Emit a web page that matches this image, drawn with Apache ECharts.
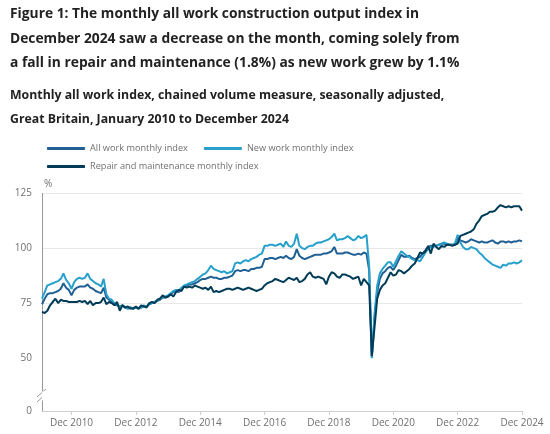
<!DOCTYPE html>
<html>
<head>
<meta charset="utf-8">
<script src="https://cdn.jsdelivr.net/npm/echarts@6.0.0/dist/echarts.min.js"></script>
<style>
  html, body { margin: 0; padding: 0; background: #fff; }
  #chart { width: 550px; height: 434px; }
</style>
</head>
<body>
<div id="chart"></div>
<script>
var years = [2010, 2011, 2012, 2013, 2014, 2015, 2016, 2017, 2018, 2019, 2020, 2021, 2022, 2023, 2024];
var monthNames = ['Jan', 'Feb', 'Mar', 'Apr', 'May', 'Jun', 'Jul', 'Aug', 'Sep', 'Oct', 'Nov', 'Dec'];
var yTicks = [0, 50, 75, 100, 125];

// one row per year, Jan..Dec
var allWork = [
  74.5, 77, 79, 79.5, 79.5, 80, 80.5, 81.5, 84, 82, 81, 78.5,
  81, 82, 82.5, 82.5, 82.5, 83.5, 82, 81.5, 80.5, 80, 79.5, 82,
  77.5, 76.5, 75.5, 74.5, 74, 73.5, 74, 73, 72.5, 73, 72.5, 73,
  72.5, 73, 73.5, 73.5, 74.5, 75, 75.5, 76, 76.5, 77.5, 77.5, 78,
  79, 80, 80.5, 80, 81.5, 82.5, 83, 83.5, 83.5, 84, 84.5, 85.5,
  86, 86, 86.5, 87, 86.5, 86.5, 86, 86, 86.5, 86.5, 87, 87.5,
  89.5, 90, 89.5, 90, 90, 89.5, 90.5, 90.5, 91, 91, 91.5, 95,
  95, 95.5, 95.5, 95, 95.5, 96, 95.5, 96.5, 95.5, 95, 96, 99.5,
  96.5, 95.5, 95, 95.5, 96, 96.5, 97, 97, 97, 97.5, 97.5, 98,
  98.5, 100.5, 97.5, 97.5, 97.5, 98, 98, 97.5, 97, 97, 97.5, 97,
  98, 97.5, 90, 50.5, 68, 80, 86, 88.5, 89.5, 91, 91.5, 90,
  92, 94.5, 97, 96, 96, 96.5, 95.5, 95, 95.5, 96, 97.5, 99,
  100.5, 101, 101, 101, 101.5, 102, 102, 101.5, 101.5, 101.5, 101.5, 104.5,
  103.5, 103, 102.5, 103, 104, 103.5, 103, 102.5, 103, 102.5, 102.5, 103,
  103.5, 102.5, 102, 103, 103, 102.5, 103, 102.5, 103, 103, 103.5, 103
];
var newWork = [
  77, 80, 83, 83.5, 84, 84.5, 85, 86, 88.5, 85.5, 84, 81.5,
  84.5, 86, 86.5, 86, 86.5, 88.5, 86, 85, 84, 83.5, 82.5, 86,
  79, 77, 76.5, 75, 74.5, 73.5, 74, 73, 72.5, 73, 72.5, 73,
  72.5, 73, 74, 73.5, 74.5, 75, 75.5, 76, 77, 77.5, 78, 78.5,
  79.5, 80.5, 81, 80.5, 82, 83, 83.5, 84, 84.5, 85, 86, 87,
  88, 88.5, 90, 92, 90.5, 90, 89.5, 89, 89.5, 88.5, 89, 89.5,
  93, 93.5, 93, 94, 94.5, 94, 95, 95.5, 96, 97, 97.5, 101,
  101, 101.5, 101.5, 101, 101.5, 102, 100.5, 103, 101, 100.5, 102, 106.5,
  101, 100, 99.5, 100.5, 101, 101, 102, 102.5, 102.5, 103, 103.5, 104,
  105, 106.5, 103.5, 104, 104, 104.5, 105.5, 104.5, 103.5, 104, 105.5, 104.5,
  105, 106, 92, 50, 70, 83, 88.5, 90.5, 92, 93.5, 93.5, 91.5,
  94, 96.5, 98.5, 97.5, 96.5, 96, 95, 94.5, 94.5, 94, 96, 98,
  99.5, 100.5, 100.5, 101, 101.5, 102, 102.5, 102, 101.5, 101.5, 102, 106,
  102.5, 100.5, 99.5, 99.5, 100.5, 100, 99.5, 98, 97, 95.5, 94.5, 93.5,
  92.5, 92, 91.5, 91, 92.5, 92, 93, 93, 93.5, 93, 93.5, 94.5
];
var repair = [
  71, 70.5, 71.5, 74, 75.5, 77, 75, 76.5, 76, 76, 75.5, 75.5,
  75.5, 75.5, 76, 75.5, 76, 74.5, 76, 74, 75, 75, 75.5, 77.5,
  74.5, 75.5, 75, 74, 75.5, 71.5, 74, 73, 73.5, 72.5, 72.5, 73.5,
  72.5, 74, 73.5, 73, 75, 75.5, 75, 76.5, 77, 78.5, 77.5, 78,
  79, 78, 80, 81, 80.5, 82.5, 82, 82.5, 82, 83, 82.5, 82,
  81.5, 82, 81, 82.5, 80, 80.5, 80, 80.5, 81, 81.5, 81.5, 81,
  81.5, 82, 81.5, 81, 81.5, 82, 81.5, 81, 80.5, 81, 81.5, 83,
  84, 84.5, 85, 86, 85.5, 85, 84.5, 85.5, 86.5, 86, 85.5, 86.5,
  84.5, 85, 86, 88, 89, 87, 86.5, 87, 86.5, 86, 83.5, 87,
  89, 88.5, 87, 86.5, 88, 88, 87.5, 87, 86, 86.5, 87, 83,
  86, 84.5, 83, 51, 64, 77, 81, 83, 84, 86.5, 89, 87.5,
  88, 90, 89.5, 88.5, 89.5, 90.5, 92, 93, 95.5, 98, 97.5, 98.5,
  101, 97.5, 102, 100.5, 99.5, 101, 100.5, 101.5, 101.5, 101, 101.5, 102,
  105.5, 106, 106.5, 107, 107.5, 108.5, 111, 112.5, 114.5, 115, 115.5, 116.5,
  116.5, 117, 118.5, 119.5, 119, 118.5, 119, 118.5, 119, 119, 119, 117
];

var categories = [];
years.forEach(function (y) {
  monthNames.forEach(function (m) {
    categories.push(m + ' ' + y);
  });
});

// labels every second December
function showDec(index) {
  return (index - 11) % 24 === 0;
}

var font = 'Open Sans';
var legendText = {fontFamily: font, fontSize: 9.2, color: '#707070'};
var chart = echarts.init(document.getElementById('chart'));
chart.setOption({
  animation: false,
  textStyle: {fontFamily: font},
  title: [{
    text: 'Figure 1: The monthly all work construction output index in\nDecember 2024 saw a decrease on the month, coming solely from\na fall in repair and maintenance (1.8%) as new work grew by 1.1%',
    left: 10,
    top: 2,
    padding: 0,
    textStyle: {fontFamily: font, fontSize: 13.8, fontWeight: 'bold', color: '#222', lineHeight: 24.5}
  }, {
    text: 'Monthly all work index, chained volume measure, seasonally adjusted,\nGreat Britain, January 2010 to December 2024',
    left: 10,
    top: 83,
    padding: 0,
    textStyle: {fontFamily: font, fontSize: 12.3, fontWeight: 'bold', color: '#222', lineHeight: 24}
  }],
  legend: [{
    data: ['All work monthly index', 'New work monthly index'],
    left: 47,
    top: 144,
    padding: 0,
    icon: 'roundRect',
    itemWidth: 38,
    itemHeight: 3,
    itemGap: 16,
    textStyle: legendText
  }, {
    data: ['Repair and maintenance monthly index'],
    left: 47,
    top: 162,
    padding: 0,
    icon: 'roundRect',
    itemWidth: 38,
    itemHeight: 3,
    textStyle: legendText
  }],
  grid: {left: 42, right: 28, top: 193, bottom: 23},
  xAxis: {
    type: 'category',
    boundaryGap: false,
    data: categories,
    axisLine: {lineStyle: {color: '#cfcfcf'}},
    axisTick: {interval: showDec, length: 4, lineStyle: {color: '#cfcfcf'}},
    axisLabel: {interval: showDec, fontSize: 10, color: '#707070', margin: 7},
    splitLine: {show: false}
  },
  yAxis: {
    type: 'value',
    min: 0,
    max: 125,
    interval: 25,
    name: '%',
    nameLocation: 'end',
    nameGap: 4,
    nameTextStyle: {align: 'left', fontSize: 10, color: '#707070', padding: [0, 0, 0, 2]},
    breaks: [{start: 5, end: 35, gap: 4}],
    breakArea: {
      show: true,
      expandOnClick: false,
      zigzagAmplitude: 0,
      itemStyle: {color: '#fff', borderColor: 'rgba(0,0,0,0)', borderWidth: 0, opacity: 1}
    },
    axisLine: {show: true, lineStyle: {color: '#9a9a9a'}},
    axisTick: {show: false},
    axisLabel: {customValues: yTicks, fontSize: 10, color: '#707070', margin: 10},
    splitLine: {lineStyle: {color: '#e8e8e8'}}
  },
  series: [{
    name: 'All work monthly index',
    type: 'line',
    data: allWork,
    showSymbol: false,
    color: '#206095',
    lineStyle: {width: 2}
  }, {
    name: 'New work monthly index',
    type: 'line',
    data: newWork,
    showSymbol: false,
    color: '#27a0cc',
    lineStyle: {width: 2}
  }, {
    name: 'Repair and maintenance monthly index',
    type: 'line',
    data: repair,
    showSymbol: false,
    color: '#003c57',
    lineStyle: {width: 2}
  }]
});

// "//" break marker on the y axis, placed from the axis itself
var x0 = chart.convertToPixel({xAxisIndex: 0}, 0);
var y0 = chart.convertToPixel({yAxisIndex: 0}, 0);
chart.setOption({
  graphic: [{
    type: 'group',
    x: x0,
    y: y0 - 15,
    children: [
      {type: 'rect', shape: {x: -2, y: -7, width: 4, height: 12}, style: {fill: '#fff'}},
      {type: 'line', shape: {x1: -5, y1: 1, x2: 4, y2: -7}, style: {stroke: '#9a9a9a', lineWidth: 1}},
      {type: 'line', shape: {x1: -5, y1: 6, x2: 4, y2: -2}, style: {stroke: '#9a9a9a', lineWidth: 1}}
    ]
  }]
});
</script>
</body>
</html>
